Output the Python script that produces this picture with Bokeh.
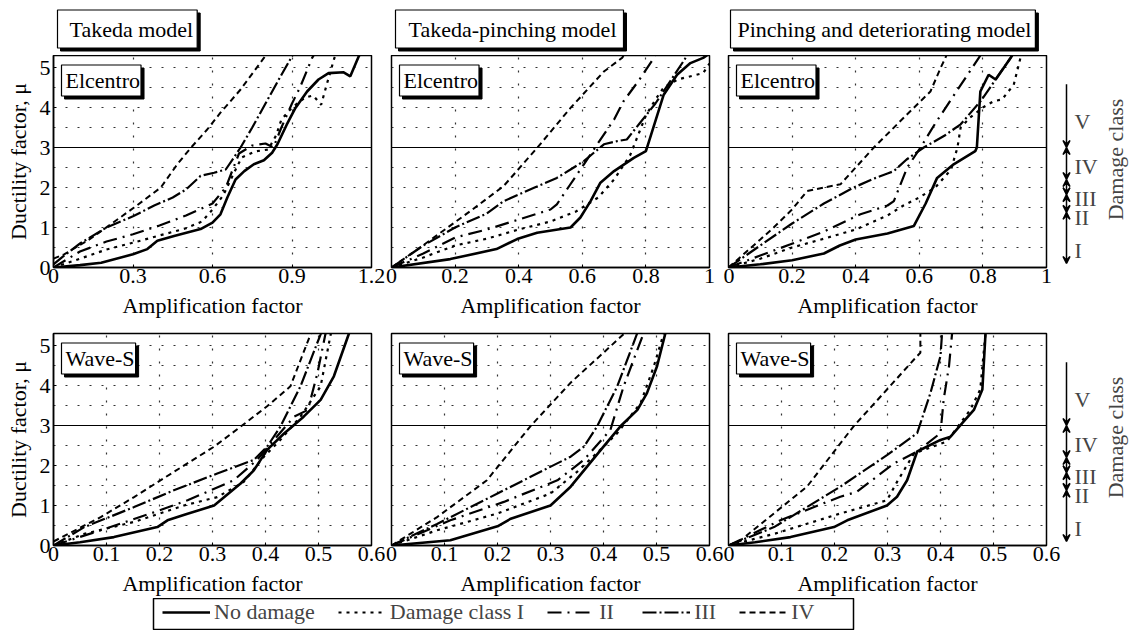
import math
import numpy as np
from bokeh.plotting import figure
from bokeh.models import (Range1d, FixedTicker, NumeralTickFormatter, Span, Label,
                          Arrow, VeeHead, Legend, LegendItem)
from bokeh.layouts import column, row
from bokeh.embed import file_html
from bokeh.resources import INLINE

# ---------------- data ----------------
MODEL_TITLES = ["Takeda model", "Takeda-pinching model", "Pinching and deteriorating model"]
RECORDS = ["Elcentro", "Wave-S"]
SERIES = ["No damage", "Damage class I", "II", "III", "IV"]
TOP_X_MAX = [1.2, 1.0, 1.0]
TOP_X_TICKS = [[0, 0.3, 0.6, 0.9, 1.2], [0, 0.2, 0.4, 0.6, 0.8, 1.0], [0, 0.2, 0.4, 0.6, 0.8, 1.0]]
BOTTOM_X_MAX = 0.6
BOTTOM_X_TICKS = [0, 0.1, 0.2, 0.3, 0.4, 0.5, 0.6]
Y_TICKS = [0, 1, 2, 3, 4, 5]
Y_GRID = [0.5, 1.0, 1.5, 2.0, 2.5, 3.0, 3.5, 4.0, 4.5, 5.0]
Y_MAX = 5.3
DAMAGE_LIMIT = 3.0
DAMAGE_CLASSES = ["V", "IV", "III", "II", "I"]
DAMAGE_BOUNDS = [4.58, 3.0, 2.2, 1.82, 1.38, 0.1]
DAMAGE_LABEL_Y = [3.65, 2.52, 1.72, 1.25, 0.42]

# Takeda / Elcentro
tk_el_nd_x = [0, 0.1, 0.18, 0.3, 0.354, 0.392, 0.455, 0.555, 0.6, 0.63, 0.656, 0.687, 0.72, 0.756, 0.794, 0.825, 0.845, 0.88, 0.913, 0.957, 1.0, 1.038, 1.095, 1.12, 1.152, 1.17]
tk_el_nd_y = [0, 0.06, 0.12, 0.33, 0.46, 0.67, 0.79, 0.96, 1.12, 1.33, 1.75, 2.2, 2.41, 2.58, 2.68, 2.87, 3.08, 3.57, 3.99, 4.4, 4.7, 4.86, 4.88, 4.78, 5.28, 5.5]
tk_el_i_x = [0, 0.1, 0.2, 0.3, 0.4, 0.5, 0.56, 0.6, 0.64, 0.68, 0.71, 0.76, 0.81, 0.84, 0.86, 0.9, 0.95, 0.98, 1.01, 1.03, 1.06, 1.08]
tk_el_i_y = [0, 0.22, 0.45, 0.62, 0.8, 0.98, 1.15, 1.45, 1.8, 2.35, 2.75, 2.9, 2.95, 3.3, 3.7, 4.0, 4.25, 4.3, 4.07, 4.55, 5.24, 5.5]
tk_el_ii_x = [0, 0.05, 0.1, 0.2, 0.3, 0.4, 0.5, 0.6, 0.65, 0.7, 0.75, 0.8, 0.83, 0.86, 0.9, 0.93, 0.976, 1.0]
tk_el_ii_y = [0, 0.2, 0.4, 0.65, 0.83, 1.05, 1.3, 1.6, 2.0, 2.85, 3.05, 3.1, 3.0, 3.5, 4.1, 4.5, 5.24, 5.5]
tk_el_iii_x = [0, 0.05, 0.1, 0.2, 0.3, 0.38, 0.45, 0.5, 0.555, 0.606, 0.65, 0.68, 0.706, 0.75, 0.8, 0.85, 0.9, 0.92]
tk_el_iii_y = [0.08, 0.35, 0.6, 1.0, 1.28, 1.55, 1.75, 1.95, 2.29, 2.37, 2.45, 2.74, 3.0, 3.5, 4.1, 4.7, 5.28, 5.5]
tk_el_iv_x = [0, 0.04, 0.128, 0.216, 0.304, 0.405, 0.467, 0.518, 0.58, 0.63, 0.706, 0.794, 0.82]
tk_el_iv_y = [0.22, 0.33, 0.67, 1.08, 1.5, 2.0, 2.58, 2.99, 3.45, 3.87, 4.45, 5.24, 5.5]

# Takeda-pinching / Elcentro
tp_el_nd_x = [0, 0.185, 0.33, 0.395, 0.458, 0.563, 0.594, 0.626, 0.657, 0.7, 0.762, 0.8, 0.81, 0.856, 0.898, 0.94, 0.98, 1.0]
tp_el_nd_y = [0, 0.21, 0.46, 0.71, 0.87, 1.0, 1.25, 1.66, 2.12, 2.41, 2.74, 2.91, 3.16, 4.32, 4.82, 5.11, 5.24, 5.35]
tp_el_i_x = [0, 0.1, 0.2, 0.3, 0.4, 0.5, 0.58, 0.65, 0.7, 0.75, 0.78, 0.8, 0.83, 0.856, 0.9, 0.98, 1.0]
tp_el_i_y = [0, 0.25, 0.55, 0.72, 0.95, 1.15, 1.4, 1.75, 2.2, 2.8, 3.4, 3.8, 4.2, 4.5, 4.7, 4.86, 5.1]
tp_el_ii_x = [0, 0.1, 0.2, 0.3, 0.4, 0.5, 0.52, 0.56, 0.605, 0.647, 0.7, 0.73, 0.78, 0.825, 0.84]
tp_el_ii_y = [0, 0.35, 0.75, 0.95, 1.2, 1.45, 1.58, 2.05, 2.58, 3.08, 3.7, 4.16, 4.7, 5.24, 5.5]
tp_el_iii_x = [0, 0.1, 0.2, 0.3, 0.353, 0.45, 0.52, 0.563, 0.605, 0.668, 0.71, 0.74, 0.78, 0.83, 0.88, 0.925, 0.94]
tp_el_iii_y = [0, 0.55, 1.0, 1.35, 1.66, 2.0, 2.24, 2.45, 2.66, 3.08, 3.16, 3.2, 3.6, 4.1, 4.7, 5.24, 5.4]
tp_el_iv_x = [0, 0.09, 0.248, 0.353, 0.458, 0.563, 0.668, 0.725, 0.74]
tp_el_iv_y = [0, 0.5, 1.41, 2.04, 2.99, 3.99, 4.9, 5.24, 5.4]

# Pinching and deteriorating / Elcentro
pd_el_nd_x = [0, 0.1, 0.2, 0.3, 0.35, 0.4, 0.5, 0.583, 0.62, 0.656, 0.708, 0.776, 0.781, 0.792, 0.818, 0.84, 0.887, 0.9]
pd_el_nd_y = [0, 0.08, 0.18, 0.35, 0.55, 0.7, 0.85, 1.04, 1.6, 2.24, 2.58, 2.91, 3.0, 4.4, 4.82, 4.7, 5.24, 5.4]
pd_el_i_x = [0, 0.1, 0.2, 0.3, 0.4, 0.5, 0.55, 0.6, 0.65, 0.7, 0.72, 0.73, 0.76, 0.8, 0.834, 0.86, 0.897, 0.918, 0.93]
pd_el_i_y = [0, 0.22, 0.5, 0.72, 0.95, 1.3, 1.55, 1.75, 2.0, 2.45, 3.0, 3.5, 3.75, 4.0, 4.16, 4.2, 4.57, 5.24, 5.5]
pd_el_ii_x = [0, 0.1, 0.195, 0.3, 0.415, 0.5, 0.52, 0.562, 0.604, 0.65, 0.71, 0.787, 0.8]
pd_el_ii_y = [0, 0.3, 0.58, 0.9, 1.33, 1.55, 1.66, 2.5, 3.0, 3.6, 4.32, 5.24, 5.4]
pd_el_iii_x = [0, 0.1, 0.2, 0.3, 0.394, 0.45, 0.5, 0.52, 0.56, 0.614, 0.68, 0.73, 0.793, 0.887, 0.9]
pd_el_iii_y = [0, 0.55, 1.1, 1.6, 2.0, 2.2, 2.35, 2.41, 2.7, 3.0, 3.3, 3.58, 4.16, 5.24, 5.4]
pd_el_iv_x = [0, 0.1, 0.142, 0.2, 0.247, 0.3, 0.352, 0.4, 0.457, 0.562, 0.635, 0.667, 0.682, 0.69]
pd_el_iv_y = [0, 0.7, 1.0, 1.45, 1.91, 2.0, 2.08, 2.5, 3.0, 3.83, 4.4, 4.99, 5.24, 5.4]

# Takeda / Wave-S
tk_ws_nd_x = [0, 0.05, 0.114, 0.196, 0.215, 0.25, 0.303, 0.353, 0.378, 0.403, 0.435, 0.472, 0.504, 0.529, 0.557, 0.565]
tk_ws_nd_y = [0, 0.08, 0.21, 0.46, 0.63, 0.78, 1.0, 1.55, 1.88, 2.39, 2.8, 3.22, 3.64, 4.23, 5.28, 5.5]
tk_ws_i_x = [0, 0.058, 0.152, 0.246, 0.309, 0.359, 0.397, 0.428, 0.466, 0.504, 0.523, 0.53]
tk_ws_i_y = [0, 0.29, 0.59, 1.0, 1.21, 1.59, 2.22, 2.64, 3.22, 3.98, 5.28, 5.5]
tk_ws_ii_x = [0, 0.089, 0.183, 0.253, 0.34, 0.384, 0.42, 0.454, 0.48, 0.498, 0.513, 0.52]
tk_ws_ii_y = [0, 0.38, 0.8, 1.13, 1.63, 2.14, 2.7, 3.22, 3.39, 4.31, 5.28, 5.5]
tk_ws_iii_x = [0, 0.058, 0.152, 0.227, 0.309, 0.378, 0.403, 0.428, 0.466, 0.504, 0.51]
tk_ws_iii_y = [0, 0.46, 0.96, 1.38, 1.8, 2.14, 2.47, 2.97, 3.98, 5.28, 5.5]
tk_ws_iv_x = [0, 0.089, 0.152, 0.227, 0.303, 0.353, 0.403, 0.447, 0.485, 0.49]
tk_ws_iv_y = [0.1, 0.71, 1.21, 1.84, 2.47, 2.97, 3.48, 3.98, 5.28, 5.5]

# Takeda-pinching / Wave-S
tp_ws_nd_x = [0, 0.111, 0.2, 0.225, 0.3, 0.338, 0.369, 0.4, 0.432, 0.464, 0.482, 0.501, 0.517, 0.52]
tp_ws_nd_y = [0, 0.13, 0.48, 0.67, 1.0, 1.47, 1.97, 2.47, 2.98, 3.39, 3.81, 4.48, 5.32, 5.5]
tp_ws_i_x = [0, 0.086, 0.2, 0.3, 0.35, 0.4, 0.426, 0.47, 0.495, 0.514, 0.52]
tp_ws_i_y = [0, 0.38, 0.8, 1.3, 1.84, 2.47, 2.81, 3.56, 4.48, 5.32, 5.5]
tp_ws_ii_x = [0, 0.111, 0.212, 0.313, 0.363, 0.413, 0.438, 0.476, 0.48]
tp_ws_ii_y = [0, 0.63, 1.09, 1.63, 2.14, 2.89, 3.98, 5.32, 5.5]
tp_ws_iii_x = [0, 0.086, 0.2, 0.294, 0.338, 0.363, 0.388, 0.426, 0.464, 0.47]
tp_ws_iii_y = [0, 0.54, 1.3, 1.93, 2.22, 2.47, 2.98, 3.98, 5.32, 5.5]
tp_ws_iv_x = [0, 0.086, 0.18, 0.262, 0.338, 0.4, 0.441, 0.45]
tp_ws_iv_y = [0, 0.71, 1.63, 2.98, 4.07, 4.82, 5.32, 5.5]

# Pinching and deteriorating / Wave-S
pd_ws_nd_x = [0, 0.05, 0.117, 0.199, 0.224, 0.299, 0.318, 0.337, 0.356, 0.4, 0.419, 0.441, 0.463, 0.479, 0.485, 0.487]
pd_ws_nd_y = [0, 0.08, 0.21, 0.46, 0.63, 1.0, 1.22, 1.63, 2.35, 2.64, 2.72, 3.06, 3.39, 3.9, 5.32, 5.5]
pd_ws_i_x = [0, 0.086, 0.211, 0.299, 0.318, 0.35, 0.412, 0.456, 0.475, 0.485, 0.487]
pd_ws_i_y = [0, 0.29, 0.8, 1.13, 1.59, 2.3, 2.6, 3.39, 3.9, 5.32, 5.5]
pd_ws_ii_x = [0, 0.098, 0.211, 0.242, 0.312, 0.356, 0.4, 0.406, 0.416, 0.422, 0.423]
pd_ws_ii_y = [0, 0.63, 1.22, 1.34, 2.05, 2.35, 2.81, 3.65, 4.48, 5.32, 5.5]
pd_ws_iii_x = [0, 0.086, 0.211, 0.299, 0.356, 0.381, 0.4, 0.403, 0.404]
pd_ws_iii_y = [0, 0.46, 1.47, 2.26, 2.81, 3.81, 4.74, 5.32, 5.5]
pd_ws_iv_x = [0, 0.023, 0.148, 0.236, 0.299, 0.35, 0.362, 0.362, 0.363]
pd_ws_iv_y = [0, 0.13, 1.47, 2.98, 3.9, 4.65, 4.82, 5.32, 5.5]

# ---------------- styles / layout ----------------
FONT = "Liberation Serif"
FS = "22px"
STYLE = [
    dict(line_width=2.6),
    dict(line_width=2.2, line_dash="3 5"),
    dict(line_width=2.2, line_dash="14 6 2 6"),
    dict(line_width=2.2, line_dash="14 3 2 3"),
    dict(line_width=2.0, line_dash="6 4"),
]
FRAME_W, FRAME_H = 318, 212
LEFT_B = [53, 6, 5]
RIGHT_B = [14, 14, 15]
SIDE_W = 75
TITLE_BOX_X = [4, 4, 2]
TITLE_PAD = [dict(left=12, right=4, top=7, bottom=6),
             dict(left=13, right=7, top=7, bottom=6),
             dict(left=7, right=4, top=7, bottom=6)]


def boxed_label(p, x, y, text, pad, units="screen"):
    common = dict(x_units=units, y_units=units, text=text, text_font=FONT, text_font_size=FS,
                  text_baseline="middle", text_align="left", padding=pad)
    p.add_layout(Label(x=x + 3, y=y - 3, text_color="black", background_fill_color="black",
                       border_line_color="black", **common))
    p.add_layout(Label(x=x, y=y, text_color="black", background_fill_color="white",
                       border_line_color="black", border_line_width=1.2, **common))


def bare(p):
    p.grid.visible = False
    p.outline_line_color = None
    p.background_fill_color = "white"
    p.border_fill_color = "white"


def title_strip(col):
    t = figure(frame_width=FRAME_W, frame_height=55, min_border_left=LEFT_B[col],
               min_border_right=RIGHT_B[col] + (SIDE_W if col == 2 else 0),
               min_border_top=0, min_border_bottom=0,
               x_range=Range1d(0, FRAME_W), y_range=Range1d(0, 55),
               x_axis_location=None, y_axis_location=None,
               output_backend="svg", toolbar_location=None)
    bare(t)
    boxed_label(t, TITLE_BOX_X[col], 26.5, MODEL_TITLES[col], TITLE_PAD[col], units="data")
    return t


def panel(col, top, xmax, xticks, curves, record):
    p = figure(frame_width=FRAME_W, frame_height=FRAME_H,
               min_border_left=LEFT_B[col], min_border_right=RIGHT_B[col],
               min_border_top=0 if top else 10, min_border_bottom=56 if top else 53,
               x_range=Range1d(0, xmax), y_range=Range1d(0, Y_MAX),
               y_axis_location="left" if col == 0 else None,
               output_backend="svg", toolbar_location=None)
    p.outline_line_color = "black"
    p.outline_line_width = 1.5
    p.background_fill_color = "white"
    p.border_fill_color = "white"
    xa = p.xaxis[0]
    xa.ticker = FixedTicker(ticks=xticks)
    xa.formatter = NumeralTickFormatter(format="0.[0]")
    xa.axis_label = "Amplification factor"
    xa.major_label_standoff = 1
    xa.axis_label_standoff = 7
    if col == 0:
        ya = p.yaxis[0]
        ya.ticker = FixedTicker(ticks=Y_TICKS)
        ya.axis_label = "Ductility factor, μ"
        ya.major_label_standoff = 3
        ya.axis_label_standoff = 6
    for ax in p.axis:
        ax.axis_label_text_font = FONT
        ax.axis_label_text_font_size = FS
        ax.axis_label_text_font_style = "normal"
        ax.axis_label_text_color = "black"
        ax.major_label_text_font = FONT
        ax.major_label_text_font_size = FS
        ax.major_label_text_color = "black"
        ax.major_tick_in = 3
        ax.major_tick_out = 0
        ax.minor_tick_in = 0
        ax.minor_tick_out = 0
        ax.axis_line_width = 1.5
        ax.axis_line_color = "black"
        ax.major_tick_line_color = "black"
    p.xgrid[0].ticker = FixedTicker(ticks=xticks[1:-1])
    p.ygrid[0].ticker = FixedTicker(ticks=Y_GRID)
    p.xgrid.grid_line_color = "#333333"
    p.xgrid.grid_line_dash = "2 11"
    p.xgrid.grid_line_width = 1.2
    p.ygrid.grid_line_color = "#333333"
    p.ygrid.grid_line_dash = "2 10"
    p.ygrid.grid_line_width = 1.2
    p.add_layout(Span(location=DAMAGE_LIMIT, dimension="width", line_color="black", line_width=1))
    for i, (xs, ys) in enumerate(curves):
        p.line(xs, ys, line_color="black", **STYLE[i])
    boxed_label(p, 8, 187, record, dict(left=4, right=1, top=3, bottom=3))
    return p


def side(top):
    s = figure(frame_width=SIDE_W, frame_height=FRAME_H, min_border_left=0, min_border_right=0,
               min_border_top=0 if top else 10, min_border_bottom=56 if top else 53,
               x_range=Range1d(0, SIDE_W), y_range=Range1d(0, Y_MAX),
               x_axis_location=None, y_axis_location=None,
               output_backend="svg", toolbar_location=None)
    bare(s)
    for i in range(len(DAMAGE_CLASSES)):
        start = None if i == 0 else VeeHead(size=7, line_width=1.5, line_color="black")
        s.add_layout(Arrow(x_start=5, y_start=DAMAGE_BOUNDS[i], x_end=5, y_end=DAMAGE_BOUNDS[i + 1],
                           start=start, end=VeeHead(size=7, line_width=1.5, line_color="black"),
                           line_width=1.5, line_color="black"))
        s.add_layout(Label(x=13, y=DAMAGE_LABEL_Y[i], text=DAMAGE_CLASSES[i], text_font=FONT,
                           text_font_size=FS, text_baseline="middle", text_align="left"))
    s.add_layout(Label(x=54, y=2.7, text="Damage class", angle=math.pi / 2, text_font=FONT,
                       text_font_size=FS, text_baseline="middle", text_align="center"))
    return s


top_curves = [
    [(tk_el_nd_x, tk_el_nd_y), (tk_el_i_x, tk_el_i_y), (tk_el_ii_x, tk_el_ii_y), (tk_el_iii_x, tk_el_iii_y), (tk_el_iv_x, tk_el_iv_y)],
    [(tp_el_nd_x, tp_el_nd_y), (tp_el_i_x, tp_el_i_y), (tp_el_ii_x, tp_el_ii_y), (tp_el_iii_x, tp_el_iii_y), (tp_el_iv_x, tp_el_iv_y)],
    [(pd_el_nd_x, pd_el_nd_y), (pd_el_i_x, pd_el_i_y), (pd_el_ii_x, pd_el_ii_y), (pd_el_iii_x, pd_el_iii_y), (pd_el_iv_x, pd_el_iv_y)],
]
bottom_curves = [
    [(tk_ws_nd_x, tk_ws_nd_y), (tk_ws_i_x, tk_ws_i_y), (tk_ws_ii_x, tk_ws_ii_y), (tk_ws_iii_x, tk_ws_iii_y), (tk_ws_iv_x, tk_ws_iv_y)],
    [(tp_ws_nd_x, tp_ws_nd_y), (tp_ws_i_x, tp_ws_i_y), (tp_ws_ii_x, tp_ws_ii_y), (tp_ws_iii_x, tp_ws_iii_y), (tp_ws_iv_x, tp_ws_iv_y)],
    [(pd_ws_nd_x, pd_ws_nd_y), (pd_ws_i_x, pd_ws_i_y), (pd_ws_ii_x, pd_ws_ii_y), (pd_ws_iii_x, pd_ws_iii_y), (pd_ws_iv_x, pd_ws_iv_y)],
]

row0 = [title_strip(c) for c in range(3)]
row1 = [panel(c, True, TOP_X_MAX[c], TOP_X_TICKS[c], top_curves[c], RECORDS[0]) for c in range(3)]
row2 = [panel(c, False, BOTTOM_X_MAX, BOTTOM_X_TICKS, bottom_curves[c], RECORDS[1]) for c in range(3)]

# legend strip
lg = figure(frame_width=700, frame_height=32, min_border_left=153, min_border_right=283,
            min_border_top=0, min_border_bottom=0, x_range=Range1d(0, 1), y_range=Range1d(0, 1),
            x_axis_location=None, y_axis_location=None, output_backend="svg", toolbar_location=None)
bare(lg)
lg.outline_line_color = "black"
lg.outline_line_width = 1.5
items = []
for i, name in enumerate(SERIES):
    # legend proxy renderer: holds no visible data, only carries the line style
    r = lg.line(x=np.array([np.nan]), y=np.array([np.nan]), line_color="black", **STYLE[i])
    items.append(LegendItem(label=name, renderers=[r]))
leg = Legend(items=items, orientation="horizontal", location=(9, 5), glyph_width=48,
             glyph_height=24, label_height=24, label_standoff=4, spacing=23, padding=0, margin=0,
             border_line_color=None, background_fill_alpha=0,
             label_text_font=FONT, label_text_font_size=FS)
lg.add_layout(leg)

layout = column(row(*row0), row(*row1, side(True)), row(*row2, side(False)), lg)

with open("out.html", "w") as f:
    f.write(file_html(layout, INLINE))
